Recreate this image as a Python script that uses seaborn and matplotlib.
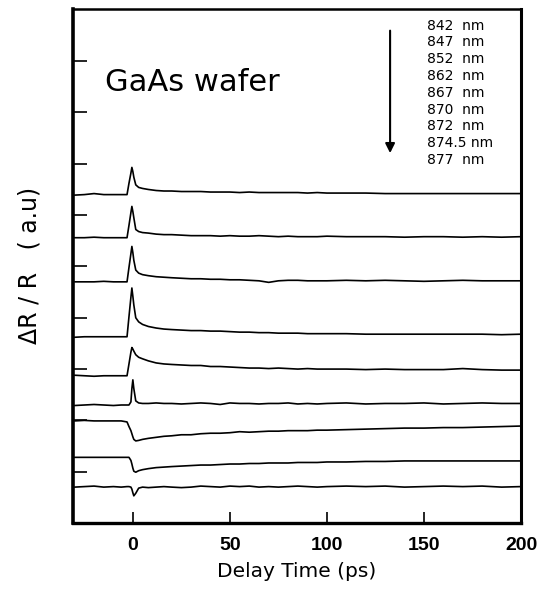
import matplotlib
matplotlib.use("Agg")
import matplotlib.pyplot as plt
import seaborn as sns
import pandas as pd

# ---- data ----
wavelengths = ["842 nm", "847 nm", "852 nm", "862 nm", "867 nm",
               "870 nm", "872 nm", "874.5 nm", "877 nm"]

delay_ps = [-30, -25, -20, -15, -10, -6, -3,
            -2, -1, -0.5, 0, 0.5, 1.5, 3, 5, 8, 12, 16,
            20, 25, 30, 35, 40, 45, 50, 55, 60, 65, 70, 75, 80, 85, 90, 95, 100,
            110, 120, 130, 140, 150, 160, 170, 180, 190, 200]

s842 = [6.39, 6.40, 6.42, 6.40, 6.40, 6.40, 6.40,
        6.62, 6.82, 6.93, 6.85, 6.74, 6.59, 6.54, 6.52, 6.50, 6.48, 6.47,
        6.47, 6.46, 6.46, 6.46, 6.45, 6.45, 6.45, 6.44, 6.45, 6.44, 6.44, 6.44, 6.44, 6.44, 6.43, 6.44, 6.43,
        6.43, 6.43, 6.42, 6.42, 6.42, 6.42, 6.42, 6.42, 6.42, 6.42]
s847 = [5.56, 5.56, 5.57, 5.56, 5.56, 5.56, 5.56,
        5.80, 6.05, 6.17, 6.07, 5.95, 5.72, 5.68, 5.66, 5.65, 5.63, 5.62,
        5.62, 5.61, 5.60, 5.60, 5.60, 5.59, 5.60, 5.59, 5.59, 5.60, 5.59, 5.58, 5.59, 5.58, 5.58, 5.58, 5.59,
        5.58, 5.58, 5.58, 5.57, 5.58, 5.58, 5.57, 5.58, 5.57, 5.58]
s852 = [4.70, 4.70, 4.70, 4.71, 4.70, 4.70, 4.70,
        4.98, 5.25, 5.39, 5.27, 5.12, 4.93, 4.87, 4.84, 4.82, 4.80, 4.79,
        4.78, 4.77, 4.76, 4.76, 4.75, 4.75, 4.74, 4.74, 4.73, 4.72, 4.69, 4.72, 4.73, 4.73, 4.72, 4.72, 4.72,
        4.73, 4.72, 4.73, 4.72, 4.71, 4.72, 4.73, 4.72, 4.72, 4.72]
s862 = [3.62, 3.63, 3.63, 3.63, 3.63, 3.63, 3.63,
        4.02, 4.40, 4.58, 4.42, 4.25, 4.00, 3.92, 3.87, 3.83, 3.80, 3.78,
        3.77, 3.76, 3.75, 3.75, 3.74, 3.74, 3.73, 3.72, 3.72, 3.71, 3.71, 3.70, 3.70, 3.70, 3.69, 3.69, 3.69,
        3.69, 3.68, 3.68, 3.68, 3.68, 3.68, 3.68, 3.68, 3.67, 3.68]
s867 = [2.88, 2.87, 2.86, 2.87, 2.87, 2.87, 2.87,
        3.10, 3.33, 3.42, 3.39, 3.35, 3.28, 3.23, 3.20, 3.16, 3.12, 3.10,
        3.09, 3.08, 3.07, 3.07, 3.05, 3.05, 3.04, 3.03, 3.02, 3.02, 3.01, 3.02, 3.01, 3.00, 3.01, 3.00, 3.00,
        3.00, 2.99, 3.00, 2.99, 2.99, 2.99, 3.01, 2.99, 2.98, 2.98]
s870 = [2.29, 2.30, 2.31, 2.30, 2.29, 2.30, 2.30,
        2.30, 2.36, 2.62, 2.79, 2.62, 2.38, 2.34, 2.33, 2.33, 2.34, 2.33,
        2.33, 2.32, 2.33, 2.34, 2.33, 2.31, 2.34, 2.33, 2.33, 2.32, 2.33, 2.33, 2.34, 2.32, 2.33, 2.32, 2.33,
        2.34, 2.32, 2.33, 2.33, 2.34, 2.32, 2.33, 2.34, 2.33, 2.33]
s872 = [1.99, 2.00, 1.99, 1.99, 1.99, 1.99, 1.97,
        1.88, 1.80, 1.74, 1.68, 1.63, 1.60, 1.61, 1.63, 1.65, 1.67, 1.69,
        1.70, 1.72, 1.72, 1.74, 1.75, 1.75, 1.76, 1.78, 1.77, 1.78, 1.79, 1.79, 1.80, 1.80, 1.80, 1.81, 1.81,
        1.82, 1.83, 1.84, 1.85, 1.85, 1.86, 1.86, 1.87, 1.88, 1.89]
s874 = [1.28, 1.28, 1.28, 1.28, 1.28, 1.28, 1.28,
        1.28, 1.22, 1.15, 1.07, 1.01, 0.99, 1.02, 1.04, 1.06, 1.08, 1.09,
        1.10, 1.11, 1.12, 1.13, 1.13, 1.14, 1.15, 1.15, 1.16, 1.16, 1.17, 1.17, 1.17, 1.18, 1.18, 1.18, 1.19,
        1.19, 1.20, 1.20, 1.21, 1.21, 1.21, 1.21, 1.21, 1.21, 1.21]
s877 = [0.70, 0.71, 0.72, 0.70, 0.71, 0.70, 0.71,
        0.71, 0.70, 0.66, 0.59, 0.53, 0.58, 0.68, 0.70, 0.69, 0.70, 0.71,
        0.70, 0.69, 0.70, 0.72, 0.71, 0.70, 0.72, 0.71, 0.72, 0.70, 0.71, 0.70, 0.71, 0.72, 0.71, 0.70, 0.71,
        0.72, 0.71, 0.72, 0.70, 0.71, 0.72, 0.71, 0.72, 0.70, 0.71]

series = [s842, s847, s852, s862, s867, s870, s872, s874, s877]

x_ticks = [0, 50, 100, 150, 200]
y_ticks = [1, 2, 3, 4, 5, 6, 7, 8, 9]

rows = []
for wl, vals in zip(wavelengths, series):
    assert len(vals) == len(delay_ps)
    for t, v in zip(delay_ps, vals):
        rows.append({"delay": t, "signal": v, "wavelength": wl})
df = pd.DataFrame(rows)

# ---- plot ----
sns.set_style("ticks")
plt.rcParams["font.family"] = ["DejaVu Sans"]
plt.rcParams["text.color"] = "black"
plt.rcParams["axes.labelcolor"] = "black"
plt.rcParams["xtick.color"] = "black"
plt.rcParams["ytick.color"] = "black"

fig = plt.figure(figsize=(5.49, 5.89), dpi=100)
ax = fig.add_axes([0.1324, 0.112, 0.8166, 0.873])

sns.lineplot(data=df, x="delay", y="signal", hue="wavelength",
             palette=["black"] * len(wavelengths), legend=False,
             linewidth=1.2, ax=ax, sort=False, estimator=None)

ax.set_xlim(-31, 200)
ax.set_ylim(0, 10.02)
ax.set_xticks(x_ticks)
ax.set_xticklabels([str(v) for v in x_ticks], fontsize=14, fontweight="bold",
                   family=["Liberation Sans", "DejaVu Sans"], color="black")
ax.set_yticks(y_ticks)
ax.set_yticklabels([])
ax.tick_params(axis="x", direction="in", length=8, width=1.2, pad=10, color="black")
ax.tick_params(axis="y", direction="in", length=10, width=1.2, color="black")

for side in ["left", "right", "top", "bottom"]:
    ax.spines[side].set_visible(True)
    ax.spines[side].set_color("black")
ax.spines["left"].set_linewidth(2.6)
ax.spines["right"].set_linewidth(2.2)
ax.spines["bottom"].set_linewidth(2.4)
ax.spines["top"].set_linewidth(1.8)

ax.set_xlabel("Delay Time (ps)", fontsize=14.5, labelpad=6, color="black")
ax.set_ylabel("\u0394R / R   ( a.u)", fontsize=17, labelpad=19, color="black")

ax.text(0.072, 0.857, "GaAs wafer", transform=ax.transAxes,
        fontsize=22, va="center", ha="left", color="black")

for i, wl in enumerate(wavelengths):
    label = wl if "." in wl else wl.replace(" ", "  ")
    ax.text(0.790, 0.9675 - i * 0.0327, label, color="black",
            transform=ax.transAxes, fontsize=10, va="center", ha="left")

ax.annotate("", xy=(0.708, 0.714), xytext=(0.708, 0.963),
            xycoords="axes fraction", textcoords="axes fraction",
            arrowprops=dict(arrowstyle="-|>", color="black", lw=1.5,
                            mutation_scale=14))

fig.savefig("out.png", dpi=100)
